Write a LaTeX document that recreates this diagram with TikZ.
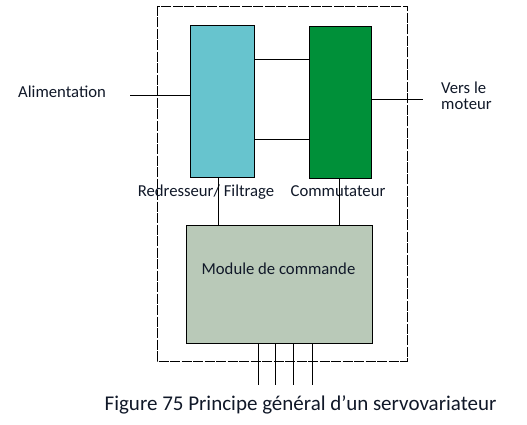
\documentclass[tikz,border=0pt]{standalone}
\usepackage{fontspec}
\setmainfont{Carlito}
\definecolor{cblue}{HTML}{67C4CE}
\definecolor{cgreen}{HTML}{009039}
\definecolor{cgrey}{HTML}{B9C9B8}
\definecolor{ctext}{HTML}{101828}
\tikzset{
  blk/.style={draw=black, line width=1pt, inner sep=0pt, anchor=north west},
  wire/.style={draw=black, line width=0.9pt},
  lbl/.style={text=ctext, font=\fontsize{16.7}{15.5}\selectfont, inner sep=0pt},
}
\begin{document}
\begin{tikzpicture}[x=1pt,y=-1pt]
\useasboundingbox (0,0) rectangle (527,425);
% frame
\draw[line width=0.9pt, dash pattern=on 10pt off 1.5pt] (157,6) rectangle (407,361);
% blocks
\node[blk, fill=cblue, minimum width=64pt, minimum height=152pt] (rf) at (190,25) {};
\node[blk, fill=cgreen, minimum width=62pt, minimum height=152pt] (co) at (309,26) {};
\node[blk, fill=cgrey, minimum width=186pt, minimum height=118pt] (mc) at (186,225) {};
% labels
\node[lbl, anchor=base west] (al) at (18,98) {Alimentation};
\node[lbl, align=left, anchor=north west] (vm) at (441,82) {Vers le\\moteur};
\node[lbl, anchor=base] (rfl) at (206,196) {Redresseur/ Filtrage};
\node[lbl, anchor=base] (col) at (338,196) {Commutateur};
\node[lbl, anchor=base] (mcl) at (278.5,274) {Module de commande};
\node[text=ctext, font=\fontsize{21}{24}\selectfont, inner sep=0pt, anchor=base] (cap) at (300.5,410) {Figure 75 Principe général d’un servovariateur};
% coordinates
\coordinate (ain) at (130,95);
\coordinate (aout) at (423,99);
% wires
\draw[wire] (ain) -- (ain -| rf.west);
\draw[wire] (co.east |- aout) -- (aout);
\draw[wire] (rf.east |- 0,59) -- (co.west |- 0,59);
\draw[wire] (rf.east |- 0,139) -- (co.west |- 0,139);
\draw[wire] (rf.south -| 218,0) -- (mc.north -| 218,0);
\draw[wire] (co.south -| 339,0) -- (mc.north -| 339,0);
\foreach \x/\n in {258/a,275/b,293/c,312/d}{
  \coordinate (e\n) at (\x,385);
  \draw[wire] (mc.south -| e\n) -- (e\n);
}
\end{tikzpicture}
\end{document}
